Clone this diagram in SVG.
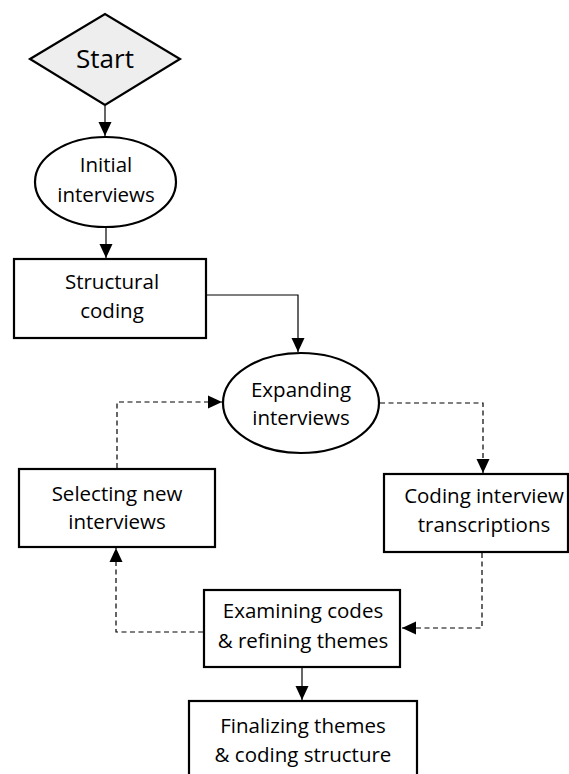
<svg xmlns="http://www.w3.org/2000/svg" width="569" height="774" viewBox="0 0 569 774">
<style>
.node{fill:#fff;stroke:#000;stroke-width:2.2}
.start{fill:#eeeeee;stroke:#000;stroke-width:2.2}
text{font-family:"Open Sans","Liberation Sans",sans-serif;font-size:20.5px;fill:#000;text-anchor:middle}
.big{font-size:26px}
.c{fill:none;stroke:#000;stroke-width:1.2}
.d{fill:none;stroke:#000;stroke-width:1.2;stroke-dasharray:5,3.5}
</style>
<defs>
<marker id="ah" markerUnits="userSpaceOnUse" markerWidth="16" markerHeight="16" viewBox="0 0 16 16" refX="15" refY="8" orient="auto">
<path d="M1,1.5 L15,8 L1,14.5 Z" fill="#000"/>
</marker>
</defs>
<g id="start">
<polygon class="start" points="30,59 105,14 180,59 105,105"/>
<text class="big" x="105" y="68">Start</text>
</g>
<g id="initial">
<ellipse class="node" cx="105.5" cy="182" rx="70.5" ry="45"/>
<text x="106" y="172">Initial</text>
<text x="106" y="202">interviews</text>
</g>
<g id="structural">
<rect class="node" x="14" y="259" width="192" height="79"/>
<text x="112" y="289">Structural</text>
<text x="112" y="318">coding</text>
</g>
<g id="expanding">
<ellipse class="node" cx="301" cy="403" rx="78" ry="50"/>
<text x="301" y="397">Expanding</text>
<text x="301" y="425">interviews</text>
</g>
<g id="selecting">
<rect class="node" x="19" y="469" width="196" height="78"/>
<text x="117" y="501">Selecting new</text>
<text x="117" y="529">interviews</text>
</g>
<g id="coding">
<rect class="node" x="384" y="474" width="184" height="78"/>
<text x="484" y="503">Coding interview</text>
<text x="484" y="532">transcriptions</text>
</g>
<g id="examining">
<rect class="node" x="204" y="590" width="196" height="77"/>
<text x="303" y="618">Examining codes</text>
<text x="303" y="648">&amp; refining themes</text>
</g>
<g id="finalizing">
<rect class="node" x="189" y="701" width="228" height="90"/>
<text x="303" y="733">Finalizing themes</text>
<text x="303" y="762">&amp; coding structure</text>
</g>
<g id="connectors">
<path class="c" d="M105,106 V136" marker-end="url(#ah)"/>
<path class="c" d="M106,228 V258" marker-end="url(#ah)"/>
<path class="c" d="M207,295 H298 V352" marker-end="url(#ah)"/>
<path class="d" d="M117,468 V402 H222" marker-end="url(#ah)"/>
<path class="d" d="M380,403 H483 V473" marker-end="url(#ah)"/>
<path class="d" d="M482,553 V628 H402" marker-end="url(#ah)"/>
<path class="d" d="M203,632 H116 V548" marker-end="url(#ah)"/>
<path class="c" d="M302,668 V700" marker-end="url(#ah)"/>
</g>
</svg>
